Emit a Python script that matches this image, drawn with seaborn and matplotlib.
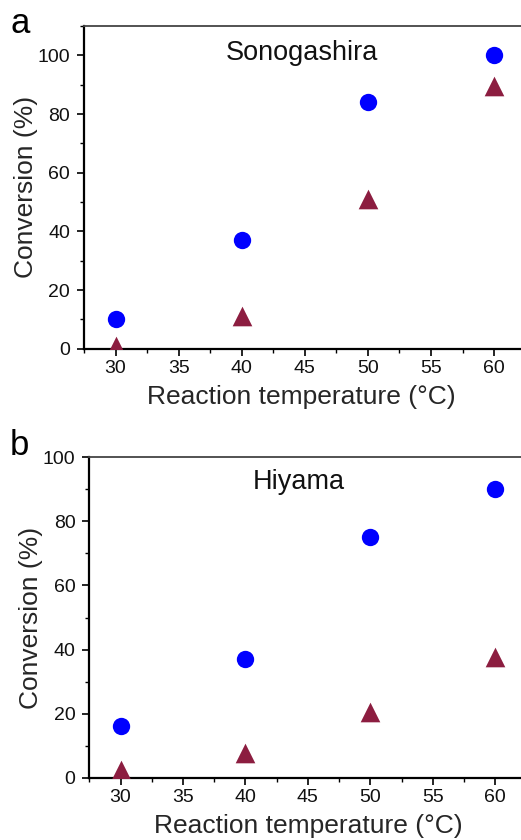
import numpy as np
import pandas as pd
import matplotlib
matplotlib.use("Agg")
import matplotlib.pyplot as plt
import seaborn as sns
from matplotlib.ticker import MultipleLocator

sns.set_style("ticks")
plt.rcParams['font.family'] = ['Liberation Sans', 'DejaVu Sans']

temperature = [30, 40, 50, 60]
sono_circle = [10, 37, 84, 100]
sono_triangle = [1, 11, 51, 89.5]
hiyama_circle = [16, 37, 75, 90]
hiyama_triangle = [2.5, 7.6, 20.6, 37.8]

panels = [
    ("a", "Sonogashira", sono_circle, sono_triangle, 110, 20),
    ("b", "Hiyama", hiyama_circle, hiyama_triangle, 100, 20),
]

series_colors = {"circle": "#0000FF", "triangle": "#8C1D40"}
series_markers = {"circle": "o", "triangle": "^"}

fig = plt.figure(figsize=(5.21, 8.40), dpi=100)
W, H = 521, 840
rects = [
    (84 / W, 1 - 348.7 / H, (525.6 - 84) / W, (348.7 - 26) / H),
    (89.3 / W, 1 - 777.7 / H, (526.5 - 89.3) / W, (777.7 - 457.3) / H),
]
letter_pos = [(10 / W, 1 - 33 / H), (10 / W, 1 - 455 / H)]
title_pos = [(0.494, 0.895), (0.48, 0.901)]
xlabel_pos = [(0.4925, -0.171), (0.50, -0.1726)]

for i, (letter, name, circ, tri, ymax, ystep) in enumerate(panels):
    ax = fig.add_axes(rects[i])
    df = pd.DataFrame({
        "T": temperature * 2,
        "conv": list(circ) + list(tri),
        "series": ["circle"] * 4 + ["triangle"] * 4,
    })
    for s, size in (("circle", 156), ("triangle", 200)):
        sub = df[df.series == s]
        sns.scatterplot(data=sub, x="T", y="conv", ax=ax, color=series_colors[s],
                        marker=series_markers[s], s=size, linewidth=0, legend=False,
                        zorder=3)
    ax.set_xlim(27.5, 62.5)
    ax.set_ylim(0, ymax)
    ax.xaxis.set_major_locator(MultipleLocator(5))
    ax.xaxis.set_minor_locator(MultipleLocator(2.5))
    ax.yaxis.set_major_locator(MultipleLocator(ystep))
    ax.yaxis.set_minor_locator(MultipleLocator(ystep / 2))
    ax.set_yticks([v for v in range(0, 101, 20)])
    ax.tick_params(axis="both", which="major", direction="out", length=5, width=1.2,
                   labelsize=14, color="black", labelcolor="#111111")
    ax.tick_params(axis="x", which="major", pad=3)
    ax.tick_params(axis="y", which="major", pad=5)
    ax.tick_params(axis="both", which="minor", direction="out", length=3, width=1.0, color="black")
    ax.tick_params(top=False, right=False, which="both")
    for side in ("left", "bottom"):
        ax.spines[side].set_linewidth(1.6)
        ax.spines[side].set_color("black")
    ax.spines["top"].set_linewidth(1.3)
    ax.spines["top"].set_color("#444444")
    ax.spines["right"].set_visible(True)
    ax.set_xlabel("Reaction temperature (°C)", fontsize=19, va="baseline")
    ax.xaxis.set_label_coords(*xlabel_pos[i])
    ax.set_ylabel("Conversion (%)", fontsize=19)
    ax.yaxis.set_label_coords(-0.105, 0.5)
    ax.text(title_pos[i][0], title_pos[i][1], name, transform=ax.transAxes,
            ha="center", va="baseline", fontsize=19.5, color="#111111")
    fig.text(letter_pos[i][0], letter_pos[i][1], letter, fontsize=25, va="baseline",
             ha="left", color="black")

fig.savefig("out.png", dpi=100)
